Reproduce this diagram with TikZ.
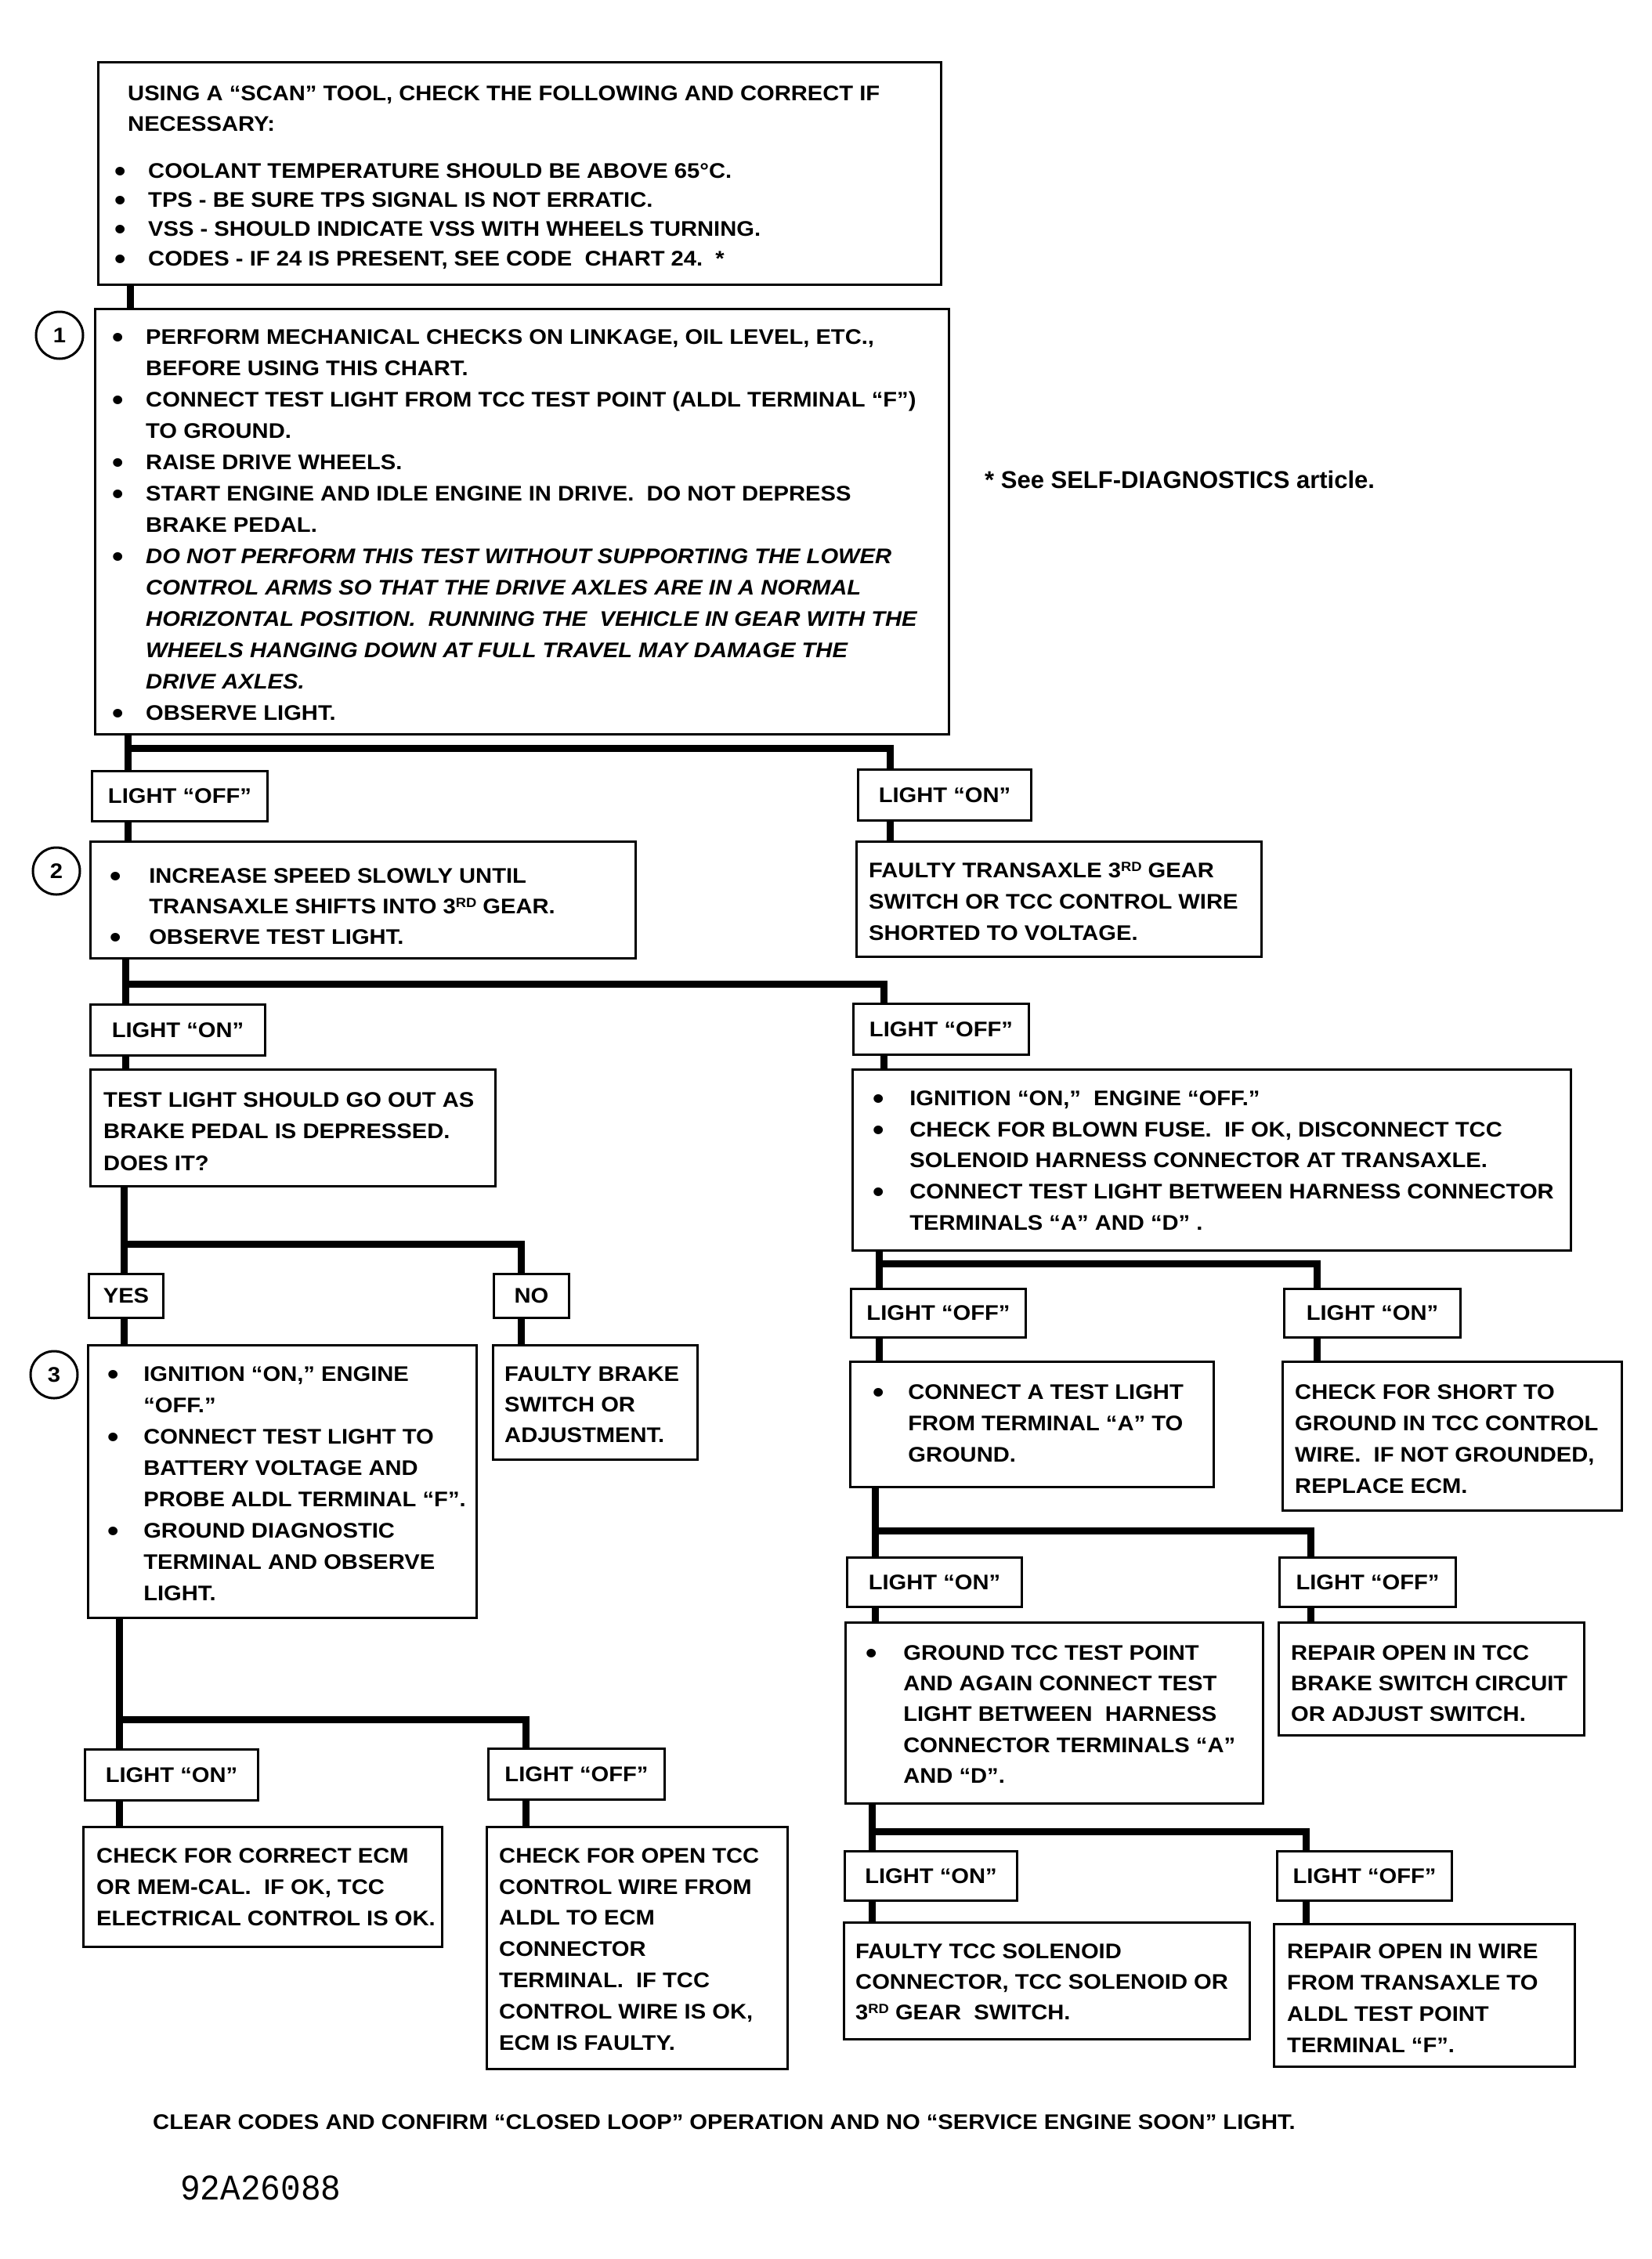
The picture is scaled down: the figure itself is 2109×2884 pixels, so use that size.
\documentclass[tikz,border=0pt]{standalone}
\usepackage{fontspec}
\newfontfamily\mainf{Liberation Sans}[FakeStretch=1.08]
\newfontfamily\helvf{Liberation Sans}
\newfontfamily\codef{Liberation Mono}[FakeStretch=0.93]
\newcommand\bigdot{\raisebox{-4pt}{\fontsize{38}{38}\selectfont\textbullet}}
\newcommand\bul[1][43]{\makebox[#1pt][l]{\bigdot}}
\newcommand\indt[1][43]{\hspace*{#1pt}}
\newcommand\sups[1]{\raisebox{8pt}{\fontsize{17}{17}\selectfont #1}}
\newcommand\fst{\rule{0pt}{30pt}}
\tikzset{
  bx/.style={draw, line width=3pt, inner sep=0pt, anchor=north west},
  lb/.style={bx, font=\mainf\bfseries\fontsize{27}{32}\selectfont},
  cn/.style={line width=9pt},
  tx/.style={anchor=north west, inner sep=0pt, yshift=30pt, align=left,
             font=\mainf\bfseries\fontsize{27}{40}\selectfont},
  ls/.style={font=\mainf\bfseries\fontsize{27}{#1}\selectfont},
  num/.style={circle, draw, line width=3pt, minimum size=60pt, inner sep=0pt,
              font=\mainf\bfseries\fontsize{27}{32}\selectfont},
}
\begin{document}
\begin{tikzpicture}[x=1pt,y=-1pt]
\fill[white] (0,0) rectangle (2109,2884);
\useasboundingbox (0,0) rectangle (2109,2884);

% ---------- boxes ----------
\node[bx,minimum width=1076pt,minimum height=284pt] (T) at (124,78) {};
\node[bx,minimum width=1090pt,minimum height=543pt] (B1) at (120,393) {};
\node[lb,minimum width=224pt,minimum height=64pt] (L1off) at (116,983) {LIGHT “OFF”};
\node[lb,minimum width=221pt,minimum height=65pt] (R1on) at (1094,981) {LIGHT “ON”};
\node[bx,minimum width=696pt,minimum height=149pt] (B2) at (114,1073) {};
\node[bx,minimum width=517pt,minimum height=147pt] (F1) at (1092,1073) {};
\node[lb,minimum width=223pt,minimum height=65pt] (L2on) at (114,1281) {LIGHT “ON”};
\node[lb,minimum width=224pt,minimum height=65pt] (R2off) at (1088,1280) {LIGHT “OFF”};
\node[bx,minimum width=517pt,minimum height=149pt] (Q) at (114,1364) {};
\node[bx,minimum width=917pt,minimum height=231pt] (R2) at (1087,1364) {};
\node[lb,minimum width=95pt,minimum height=56pt] (YES) at (112,1625) {YES};
\node[lb,minimum width=96pt,minimum height=56pt] (NO) at (629,1625) {NO};
\node[bx,minimum width=496pt,minimum height=348pt] (B3) at (111,1716) {};
\node[bx,minimum width=261pt,minimum height=146pt] (NOB) at (628,1716) {};
\node[lb,minimum width=221pt,minimum height=65pt] (L4on) at (107,2232) {LIGHT “ON”};
\node[lb,minimum width=225pt,minimum height=65pt] (L4off) at (622,2231) {LIGHT “OFF”};
\node[bx,minimum width=458pt,minimum height=153pt] (E1) at (105,2331) {};
\node[bx,minimum width=384pt,minimum height=309pt] (E2) at (620,2331) {};
\node[lb,minimum width=223pt,minimum height=62pt] (L5off) at (1085,1644) {LIGHT “OFF”};
\node[lb,minimum width=225pt,minimum height=62pt] (L5on) at (1638,1644) {LIGHT “ON”};
\node[bx,minimum width=464pt,minimum height=160pt] (C1) at (1084,1737) {};
\node[bx,minimum width=433pt,minimum height=190pt] (S1) at (1636,1737) {};
\node[lb,minimum width=223pt,minimum height=63pt] (L6on) at (1080,1987) {LIGHT “ON”};
\node[lb,minimum width=225pt,minimum height=63pt] (L6off) at (1632,1987) {LIGHT “OFF”};
\node[bx,minimum width=533pt,minimum height=231pt] (G1) at (1078,2070) {};
\node[bx,minimum width=390pt,minimum height=144pt] (RP1) at (1631,2070) {};
\node[lb,minimum width=220pt,minimum height=63pt] (L7on) at (1077,2362) {LIGHT “ON”};
\node[lb,minimum width=223pt,minimum height=63pt] (L7off) at (1629,2362) {LIGHT “OFF”};
\node[bx,minimum width=518pt,minimum height=149pt] (FS) at (1076,2453) {};
\node[bx,minimum width=384pt,minimum height=182pt] (RW) at (1625,2455) {};

% ---------- step numbers ----------
\node[num] (n1) at (76,428) {1};
\node[num] (n2) at (72,1112) {2};
\node[num] (n3) at (69,1755) {3};

% ---------- connectors ----------
\coordinate (xa) at (166,0);
\draw[cn] (xa |- T.south) -- (xa |- B1.north);

\coordinate (b1l) at (163,955); \coordinate (b1r) at (1136,955);
\draw[cn] (b1l |- B1.south) -- (b1l |- L1off.north);
\draw[cn] (b1l) -- (b1r) -- (b1r |- R1on.north);
\draw[cn] (b1l |- L1off.south) -- (b1l |- B2.north);
\draw[cn] (b1r |- R1on.south) -- (b1r |- F1.north);

\coordinate (b2l) at (160,1256); \coordinate (b2r) at (1128,1256);
\draw[cn] (b2l |- B2.south) -- (b2l |- L2on.north);
\draw[cn] (b2l) -- (b2r) -- (b2r |- R2off.north);
\draw[cn] (b2l |- L2on.south) -- (b2l |- Q.north);
\draw[cn] (b2r |- R2off.south) -- (b2r |- R2.north);

\coordinate (b3l) at (158,1588); \coordinate (b3r) at (665,1588);
\draw[cn] (b3l |- Q.south) -- (b3l |- YES.north);
\draw[cn] (b3l) -- (b3r) -- (b3r |- NO.north);
\draw[cn] (b3l |- YES.south) -- (b3l |- B3.north);
\draw[cn] (b3r |- NO.south) -- (b3r |- NOB.north);

\coordinate (b4l) at (152,2195); \coordinate (b4r) at (671,2195);
\draw[cn] (b4l |- B3.south) -- (b4l |- L4on.north);
\draw[cn] (b4l) -- (b4r) -- (b4r |- L4off.north);
\draw[cn] (b4l |- L4on.south) -- (b4l |- E1.north);
\draw[cn] (b4r |- L4off.south) -- (b4r |- E2.north);

\coordinate (b5l) at (1122,1613); \coordinate (b5r) at (1681,1613);
\draw[cn] (b5l |- R2.south) -- (b5l |- L5off.north);
\draw[cn] (b5l) -- (b5r) -- (b5r |- L5on.north);
\draw[cn] (b5l |- L5off.south) -- (b5l |- C1.north);
\draw[cn] (b5r |- L5on.south) -- (b5r |- S1.north);

\coordinate (b6l) at (1117,1954); \coordinate (b6r) at (1673,1954);
\draw[cn] (b6l |- C1.south) -- (b6l |- L6on.north);
\draw[cn] (b6l) -- (b6r) -- (b6r |- L6off.north);
\draw[cn] (b6l |- L6on.south) -- (b6l |- G1.north);
\draw[cn] (b6r |- L6off.south) -- (b6r |- RP1.north);

\coordinate (b7l) at (1113,2338); \coordinate (b7r) at (1667,2338);
\draw[cn] (b7l |- G1.south) -- (b7l |- L7on.north);
\draw[cn] (b7l) -- (b7r) -- (b7r |- L7off.north);
\draw[cn] (b7l |- L7on.south) -- (b7l |- FS.north);
\draw[cn] (b7r |- L7off.south) -- (b7r |- RW.north);

% ---------- texts ----------
\node[tx,ls=39] (tT) at (163,128) {\fst USING A “SCAN” TOOL, CHECK THE FOLLOWING AND CORRECT IF\\NECESSARY:};
\node[tx,ls=37.3] (tTb) at (146,227) {\fst\bul COOLANT TEMPERATURE SHOULD BE ABOVE 65°C.\\
\bul TPS - BE SURE TPS SIGNAL IS NOT ERRATIC.\\
\bul VSS - SHOULD INDICATE VSS WITH WHEELS TURNING.\\
\bul CODES - IF 24 IS PRESENT, SEE CODE\ \ CHART 24.\ \ *};

\node[tx] (tB1) at (143,439) {\fst\bul PERFORM MECHANICAL CHECKS ON LINKAGE, OIL LEVEL, ETC.,\\
\indt BEFORE USING THIS CHART.\\
\bul CONNECT TEST LIGHT FROM TCC TEST POINT (ALDL TERMINAL “F”)\\
\indt TO GROUND.\\
\bul RAISE DRIVE WHEELS.\\
\bul START ENGINE AND IDLE ENGINE IN DRIVE.\ \ DO NOT DEPRESS\\
\indt BRAKE PEDAL.\\
\bul\textit{DO NOT PERFORM THIS TEST WITHOUT SUPPORTING THE LOWER}\\
\indt\textit{CONTROL ARMS SO THAT THE DRIVE AXLES ARE IN A NORMAL}\\
\indt\textit{HORIZONTAL POSITION.\ \ RUNNING THE\ \ VEHICLE IN GEAR WITH THE}\\
\indt\textit{WHEELS HANGING DOWN AT FULL TRAVEL MAY DAMAGE THE}\\
\indt\textit{DRIVE AXLES.}\\
\bul OBSERVE LIGHT.};

\node[tx,ls=39] (tB2) at (140,1127) {\fst\bul[42] INCREASE SPEED SLOWLY UNTIL\\
\indt[42] TRANSAXLE SHIFTS INTO 3\sups{RD} GEAR.\\
\bul[42] OBSERVE TEST LIGHT.};

\node[tx] (tF1) at (1109,1120) {\fst FAULTY TRANSAXLE 3\sups{RD} GEAR\\SWITCH OR TCC CONTROL WIRE\\SHORTED TO VOLTAGE.};

\node[tx,ls=40.5] (tQ) at (132,1413) {\fst TEST LIGHT SHOULD GO OUT AS\\BRAKE PEDAL IS DEPRESSED.\\DOES IT?};

\node[tx,ls=39.8] (tR2) at (1114,1411) {\fst\bul[39] IGNITION “ON,”\ \ ENGINE “OFF.”\\
\bul[39] CHECK FOR BLOWN FUSE.\ \ IF OK, DISCONNECT TCC\\
\indt[39] SOLENOID HARNESS CONNECTOR AT TRANSAXLE.\\
\bul[39] CONNECT TEST LIGHT BETWEEN HARNESS CONNECTOR\\
\indt[39] TERMINALS “A” AND “D” .};

\node[tx] (tB3) at (137,1763) {\fst\bul[38] IGNITION “ON,” ENGINE\\
\indt[38] “OFF.”\\
\bul[38] CONNECT TEST LIGHT TO\\
\indt[38] BATTERY VOLTAGE AND\\
\indt[38] PROBE ALDL TERMINAL “F”.\\
\bul[38] GROUND DIAGNOSTIC\\
\indt[38] TERMINAL AND OBSERVE\\
\indt[38] LIGHT.};

\node[tx,ls=39] (tNO) at (644,1763) {\fst FAULTY BRAKE\\SWITCH OR\\ADJUSTMENT.};

\node[tx] (tE1) at (123,2378) {\fst CHECK FOR CORRECT ECM\\OR MEM-CAL.\ \ IF OK, TCC\\ELECTRICAL CONTROL IS OK.};

\node[tx,ls=39.8] (tE2) at (637,2378) {\fst CHECK FOR OPEN TCC\\CONTROL WIRE FROM\\ALDL TO ECM\\CONNECTOR\\TERMINAL.\ \ IF TCC\\CONTROL WIRE IS OK,\\ECM IS FAULTY.};

\node[tx] (tC1) at (1114,1786) {\fst\bul[37] CONNECT A TEST LIGHT\\
\indt[37] FROM TERMINAL “A” TO\\
\indt[37] GROUND.};

\node[tx] (tS1) at (1653,1786) {\fst CHECK FOR SHORT TO\\GROUND IN TCC CONTROL\\WIRE.\ \ IF NOT GROUNDED,\\REPLACE ECM.};

\node[tx,ls=39.3] (tG1) at (1105,2119) {\fst\bul[40] GROUND TCC TEST POINT\\
\indt[40] AND AGAIN CONNECT TEST\\
\indt[40] LIGHT BETWEEN\ \ HARNESS\\
\indt[40] CONNECTOR TERMINALS “A”\\
\indt[40] AND “D”.};

\node[tx,ls=39] (tRP) at (1648,2119) {\fst REPAIR OPEN IN TCC\\BRAKE SWITCH CIRCUIT\\OR ADJUST SWITCH.};

\node[tx,ls=39] (tFS) at (1092,2500) {\fst FAULTY TCC SOLENOID\\CONNECTOR, TCC SOLENOID OR\\3\sups{RD} GEAR\ \ SWITCH.};

\node[tx,ls=40] (tRW) at (1643,2500) {\fst REPAIR OPEN IN WIRE\\FROM TRANSAXLE TO\\ALDL TEST POINT\\TERMINAL “F”.};

\node[tx, font=\helvf\bfseries\fontsize{31}{36}\selectfont] (note) at (1257,623) {\fst* See SELF-DIAGNOSTICS article.};

\node[tx] (foot) at (195,2718) {\fst CLEAR CODES AND CONFIRM “CLOSED LOOP” OPERATION AND NO “SERVICE ENGINE SOON” LIGHT.};

\node[tx, yshift=10pt, font=\codef\fontsize{46}{50}\selectfont] (code) at (230,2808) {\rule{0pt}{40pt}92A26088};
\end{tikzpicture}
\end{document}
